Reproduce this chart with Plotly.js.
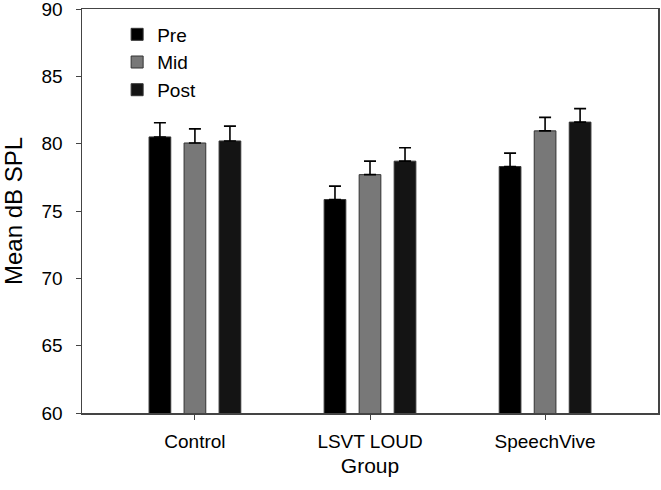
<!DOCTYPE html>
<html>
<head>
<meta charset="utf-8">
<script src="https://cdn.plot.ly/plotly-3.0.1.min.js"></script>
<style>html,body{margin:0;padding:0;background:#fff;}#chart{width:661px;height:490px;}</style>
</head>
<body>
<div id="chart"></div>
<script>
const groups = ["Control", "LSVT LOUD", "SpeechVive"];
const seriesNames = ["Pre", "Mid", "Post"];
const preMean = [80.5, 75.85, 78.3];
const midMean = [80.05, 77.7, 80.95];
const postMean = [80.2, 78.7, 81.6];
const preErr = [1.05, 1.0, 1.0];
const midErr = [1.05, 1.0, 1.0];
const postErr = [1.1, 1.0, 1.0];
const yTicks = [60, 65, 70, 75, 80, 85, 90];

const colors = ["#000000", "#787878", "#141414"];
const means = [preMean, midMean, postMean];
const errs = [preErr, midErr, postErr];
const xIdx = groups.map((g, i) => i);

const traces = seriesNames.map((name, k) => ({
  type: "bar",
  name: name,
  x: xIdx,
  y: means[k],
  marker: {color: colors[k], line: {color: "#333333", width: 1}},
  error_y: {
    type: "data", symmetric: false, array: errs[k],
    arrayminus: errs[k].map(() => 0),
    color: "#000000", thickness: 1.6, width: 6
  },
  hoverinfo: "x+y+name"
}));

const layout = {
  width: 661, height: 490,
  margin: {l: 82, r: 3, t: 9, b: 77},
  paper_bgcolor: "#ffffff", plot_bgcolor: "#ffffff",
  font: {family: "Liberation Sans, Arial, sans-serif", color: "#000000"},
  barmode: "group", bargap: 0.4, bargroupgap: 0.38,
  xaxis: {
    range: [-0.645, 2.645],
    tickmode: "array", tickvals: xIdx, ticktext: groups,
    ticks: "outside", ticklen: 5, tickwidth: 1, tickcolor: "#444",
    showline: true, mirror: true, linecolor: "#444", linewidth: 1.5,
    showgrid: false, zeroline: false,
    tickfont: {size: 19}, ticklabelstandoff: 6,
    title: {text: "Group", font: {size: 21}, standoff: 7}
  },
  yaxis: {
    range: [60, 90],
    tickmode: "array", tickvals: yTicks,
    ticks: "outside", ticklen: 5, tickwidth: 1, tickcolor: "#444",
    showline: true, mirror: true, linecolor: "#444", linewidth: 1.5,
    showgrid: false, zeroline: false,
    tickfont: {size: 19}, ticklabelstandoff: 9, ticklabeloverflow: "allow",
    title: {text: "Mean dB SPL", font: {size: 24}, standoff: 20}
  },
  showlegend: true,
  legend: {
    x: 0.061, y: 0.984, xanchor: "left", yanchor: "top",
    bgcolor: "rgba(0,0,0,0)", borderwidth: 0,
    font: {size: 19}, itemwidth: 30, tracegroupgap: 0
  }
};

Plotly.newPlot("chart", traces, layout, {displayModeBar: false, staticPlot: true});
</script>
</body>
</html>
